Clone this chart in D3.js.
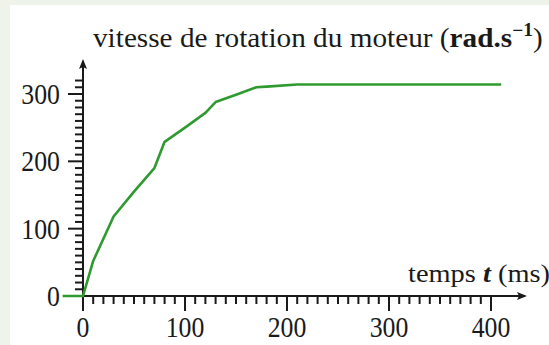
<!DOCTYPE html>
<html>
<head>
<meta charset="utf-8">
<script src="https://cdn.jsdelivr.net/npm/d3@7"></script>
<style>
  html, body { margin: 0; padding: 0; background: #eef4ea; }
  svg { display: block; }
</style>
</head>
<body>
<div id="chart"></div>
<script>
// motor speed step response
const timeMs = [-20, 0, 10, 30, 50, 70, 80, 100, 120, 130, 150, 170, 180, 210, 410];
const speed  = [0, 0, 52, 118, 155, 190, 229, 250, 272, 288, 299, 310, 311, 314, 314];
const xTicks = [0, 100, 200, 300, 400];
const yTicks = [0, 100, 200, 300];

const W = 549, H = 345;
const FONT = '"Liberation Serif", "Times New Roman", serif';
const INK = '#1a1a1a';

const svg = d3.select('#chart').append('svg')
  .attr('width', W).attr('height', H);

// light frame + white panel
svg.append('rect').attr('width', W).attr('height', H).attr('fill', '#eef4ea');
svg.append('rect').attr('x', 10).attr('y', 5).attr('width', W - 10).attr('height', H - 5).attr('fill', '#fff');

const x = d3.scaleLinear().domain([0, 400]).range([83, 491]);
const y = d3.scaleLinear().domain([0, 300]).range([296, 94]);

// squashed text helper (the source figure is narrower than it is tall)
function label(txt, px, py, size, sx, anchor) {
  return svg.append('text')
    .attr('transform', `translate(${px},${py}) scale(${sx},1)`)
    .attr('text-anchor', anchor || 'start')
    .attr('font-family', FONT)
    .attr('font-size', size)
    .attr('fill', INK)
    .text(txt);
}

// ---- ticks ----
const axisG = svg.append('g').attr('stroke', INK).attr('stroke-width', 2);
d3.range(0, 401, 10).forEach(t => {
  const major = t % 100 === 0;
  axisG.append('line')
    .attr('x1', x(t)).attr('x2', x(t))
    .attr('y1', y(0)).attr('y2', y(0) + (major ? 15 : 8));
});
d3.range(0, 321, 10).forEach(v => {
  const major = v % 100 === 0;
  axisG.append('line')
    .attr('y1', y(v)).attr('y2', y(v))
    .attr('x1', x(0)).attr('x2', x(0) - (major ? 15 : 8));
});

// ---- axis lines with arrows ----
const defs = svg.append('defs');
defs.append('marker')
  .attr('id', 'arr').attr('viewBox', '0 0 10 10')
  .attr('refX', 8).attr('refY', 5)
  .attr('markerWidth', 5).attr('markerHeight', 5)
  .attr('markerUnits', 'strokeWidth')
  .attr('orient', 'auto')
  .append('path').attr('d', 'M0,1 L10,5 L0,9 L2,5 Z').attr('fill', INK);

svg.append('line')
  .attr('x1', x(0) - 1).attr('x2', 525).attr('y1', y(0)).attr('y2', y(0))
  .attr('stroke', INK).attr('stroke-width', 2).attr('marker-end', 'url(#arr)');
svg.append('line')
  .attr('x1', x(0)).attr('x2', x(0)).attr('y1', y(0) + 1).attr('y2', 61)
  .attr('stroke', INK).attr('stroke-width', 2).attr('marker-end', 'url(#arr)');

// ---- tick labels ----
xTicks.forEach(t => label(String(t), x(t), 337, 30, 0.86, 'middle'));
yTicks.forEach(v => label(String(v), 60, y(v) + 10, 30, 0.86, 'end'));

// ---- curve ----
const pts = timeMs.map((t, i) => [t, speed[i]]);
svg.append('path')
  .datum(pts)
  .attr('fill', 'none')
  .attr('stroke', '#2f9a2f')
  .attr('stroke-width', 2.6)
  .attr('stroke-linejoin', 'round')
  .attr('d', d3.line().x(d => x(d[0])).y(d => y(d[1])));

// ---- titles ----
function fitText(sel, width) {
  const w = sel.node().getComputedTextLength();
  const tr = sel.attr('transform').replace(/scale\([^)]*\)/, `scale(${width / w},1)`);
  sel.attr('transform', tr);
}

const title = label('', 93, 47, 27, 1);
title.append('tspan').text('vitesse de rotation du moteur (');
title.append('tspan').attr('font-weight', 'bold').text('rad.s');
title.append('tspan').attr('font-weight', 'bold').attr('font-size', 18).attr('dy', -11).text('−1');
title.append('tspan').attr('dy', 11).text(')');
fitText(title, 450);

const xl = label('', 408, 282, 25, 1);
xl.append('tspan').text('temps ');
xl.append('tspan').attr('font-weight', 'bold').attr('font-style', 'italic').text('t');
xl.append('tspan').text(' (ms)');
fitText(xl, 142);
</script>
</body>
</html>
